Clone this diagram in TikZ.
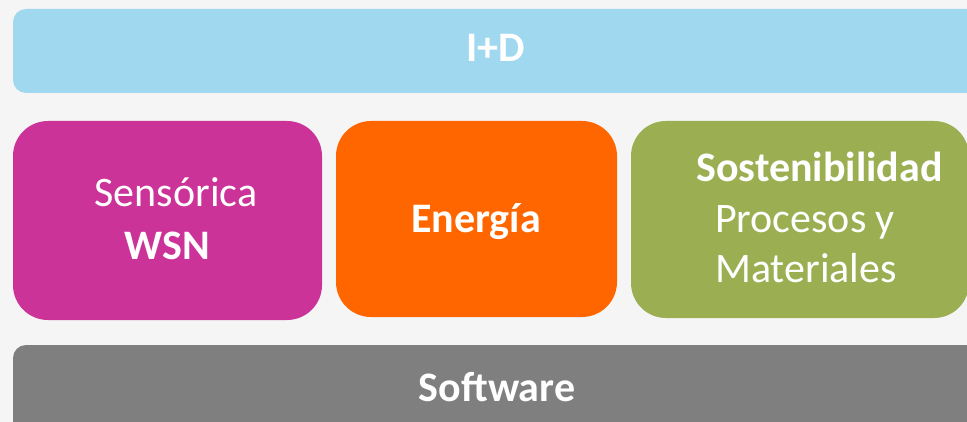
\documentclass[tikz,border=0pt]{standalone}
\usepackage{fontspec}
\setmainfont{Carlito}
\definecolor{bgc}{HTML}{F5F5F5}
\definecolor{idc}{HTML}{A0D9EF}
\definecolor{magc}{HTML}{CC3399}
\definecolor{orc}{HTML}{FF6600}
\definecolor{grc}{HTML}{9BAF52}
\definecolor{gyc}{HTML}{7F7F7F}
\tikzset{
  panel/.style={draw=none, inner sep=0pt, outer sep=0pt},
  lbl/.style={text=white, anchor=base, inner sep=0pt, font=\fontsize{42}{50}\selectfont},
  blbl/.style={lbl, font=\fontsize{42}{50}\selectfont\bfseries},
}
\begin{document}
\begin{tikzpicture}[x=1pt, y=-1pt]
\useasboundingbox (0,0) rectangle (967,422);
\clip (0,0) rectangle (967,422);
\fill[bgc] (0,0) rectangle (967,422);
% panels
\path[panel, fill=idc, rounded corners=13pt] (13,9) rectangle (985,93);
\node[panel] (idbox) at (499,51) {};
\path[panel, fill=magc, rounded corners=35pt] (13,121) rectangle (322,320);
\node[panel] (sensbox) at (167.5,220.5) {};
\path[panel, fill=orc, rounded corners=35pt] (336,121) rectangle (617,317);
\node[panel] (enerbox) at (476.5,219) {};
\path[panel, fill=grc, rounded corners=35pt] (631,121) rectangle (969,318);
\node[panel] (sostbox) at (800,219.5) {};
\path[panel, fill=gyc, rounded corners=13pt] (13,345) rectangle (985,440);
\node[panel] (softbox) at (499,392) {};
% labels
\node[blbl] (id) at (496,62) {I+D};
\node[lbl] (sens) at (176,207) {Sensórica};
\node[blbl] (wsn) at (167,260) {WSN};
\node[blbl] (ener) at (476,233) {Energía};
\node[blbl] (sost) at (819.5,182) {Sostenibilidad};
\node[lbl] (proc) at (805,233) {Procesos y};
\node[lbl] (mat) at (806,283) {Materiales};
\node[blbl] (soft) at (497,401) {Software};
\end{tikzpicture}
\end{document}
